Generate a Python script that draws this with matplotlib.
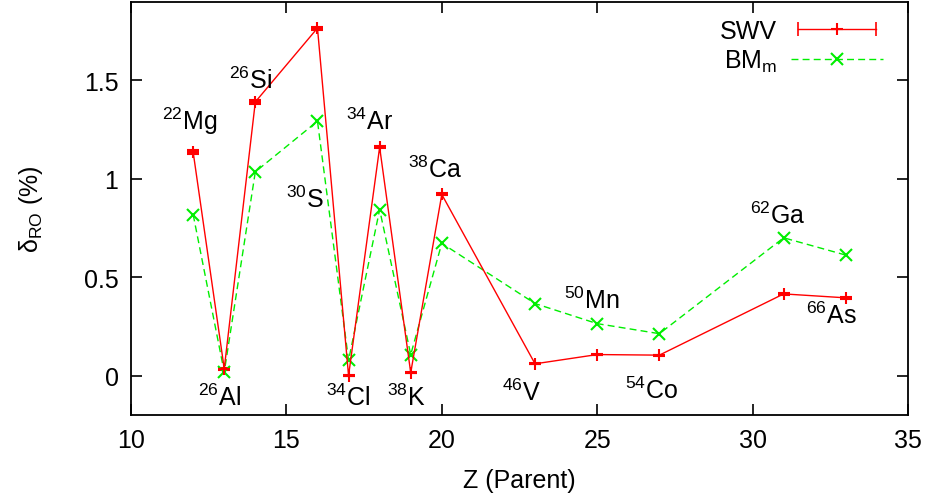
import matplotlib
matplotlib.use("Agg")
import matplotlib.pyplot as plt
from matplotlib.lines import Line2D
from matplotlib.legend_handler import HandlerLine2D, HandlerTuple

plt.rcParams['font.family'] = ['Liberation Sans', 'DejaVu Sans']
plt.rcParams['mathtext.fontset'] = 'custom'
plt.rcParams['mathtext.rm'] = 'Liberation Sans'
plt.rcParams['mathtext.it'] = 'Liberation Sans:italic'

# parent Z and isospin-breaking correction delta_RO (%)
z_parent = [12, 13, 14, 16, 17, 18, 19, 20, 23, 25, 27, 31, 33]
swv = [1.135, 0.035, 1.39, 1.765, 0.0, 1.16, 0.015, 0.92, 0.06, 0.107, 0.104, 0.415, 0.395]
swv_err = [0.01, 0.005, 0.012, 0.008, 0.004, 0.006, 0.004, 0.005, 0.003, 0.003, 0.003, 0.005, 0.004]
bm_m = [0.818, 0.018, 1.035, 1.292, 0.078, 0.843, 0.107, 0.672, 0.366, 0.264, 0.213, 0.700, 0.612]

nuclei = ['$^{22}$Mg', '$^{26}$Si', '$^{30}$S', '$^{34}$Ar', '$^{38}$Ca',
          '$^{26}$Al', '$^{34}$Cl', '$^{38}$K', '$^{46}$V', '$^{50}$Mn',
          '$^{54}$Co', '$^{62}$Ga', '$^{66}$As']
label_x = [11.9, 13.83, 15.6, 17.69, 19.78, 12.86, 16.98, 18.85, 22.58, 24.83, 26.76, 30.82, 32.55]
label_y = [1.255, 1.459, 0.857, 1.255, 1.010, -0.148, -0.148, -0.148, -0.122, 0.342, -0.112, 0.776, 0.265]

fig = plt.figure(figsize=(9.28, 5.02), dpi=100)
ax = fig.add_axes([131/928, 1 - 416/502, (908 - 131)/928, (416 - 2.5)/502])

ax.errorbar(z_parent, swv, yerr=swv_err, color='#ff0000', lw=1.0,
            marker='+', ms=8, mew=1.5, capsize=4, capthick=1.2, elinewidth=1.0)
ax.plot(z_parent, bm_m, color='#00ee00', lw=1.0, ls=(0, (5, 3)),
        marker='x', ms=8, mew=1.5)

for txt, xx, yy in zip(nuclei, label_x, label_y):
    ax.text(xx, yy, txt, ha='center', va='baseline', fontsize=18)

ax.set_xlim(10, 35)
ax.set_ylim(-0.2, 1.9)
ax.set_xticks([10, 15, 20, 25, 30, 35])
ax.set_yticks([0, 0.5, 1, 1.5])
ax.set_yticklabels(['0', '0.5', '1', '1.5'])
ax.tick_params(direction='in', top=True, right=True, length=8, width=1.2,
               labelsize=18, pad=9)
for s in ax.spines.values():
    s.set_linewidth(1.3)

ax.set_xlabel('Z (Parent)', fontsize=18, labelpad=12)
ax.set_ylabel('δ$_\\mathrm{RO}$ (%)', fontsize=18, labelpad=28)

# gnuplot-like key entries
swv_caps = Line2D([], [], color='#ff0000', lw=1.0, marker='|', ms=10, mew=1.2)
swv_mid = Line2D([], [], color='#ff0000', ls='none', marker='+', ms=8, mew=1.5)
bm_key = Line2D([], [], color='#00ee00', lw=1.0, ls=(0, (5, 3)), marker='x', ms=8, mew=1.5)
ax.legend([(swv_caps, swv_mid), bm_key], ['SWV', 'BM$_\\mathrm{m}$'],
          handler_map={swv_caps: HandlerLine2D(numpoints=2), tuple: HandlerTuple(ndivide=1)},
          loc='upper right', bbox_to_anchor=(0.997, 1.012), frameon=False,
          markerfirst=False, numpoints=1, fontsize=18, handlelength=3.7,
          handletextpad=0.55, labelspacing=0.2)

fig.savefig('out.png', dpi=100)
